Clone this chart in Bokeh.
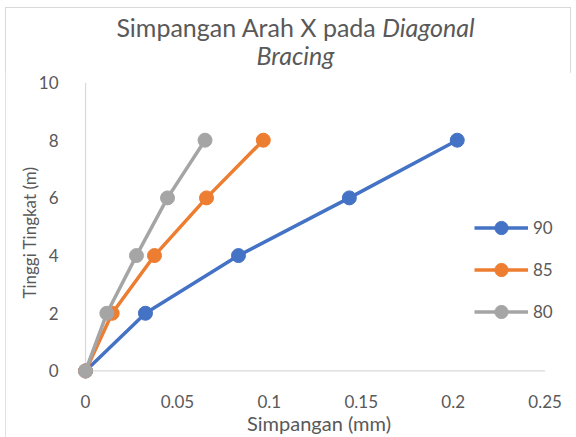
from bokeh.plotting import figure
from bokeh.models import Range1d, FixedTicker, Legend, LegendItem, Div
from bokeh.layouts import column
from bokeh.embed import file_html
from bokeh.resources import INLINE

# ---- data ----
heights = [0, 2, 4, 6, 8]
drift_90 = [0, 0.0326, 0.0832, 0.1435, 0.2022]
drift_85 = [0, 0.0145, 0.0375, 0.0658, 0.0967]
drift_80 = [0, 0.0116, 0.0277, 0.0446, 0.0650]
series_names = ["90", "85", "80"]
x_ticks = [0, 0.05, 0.1, 0.15, 0.2, 0.25]
x_tick_labels = ["0", "0.05", "0.1", "0.15", "0.2", "0.25"]
y_ticks = [0, 2, 4, 6, 8, 10]
title_plain = "Simpangan Arah X pada"
title_italic_1 = "Diagonal"
title_italic_2 = "Bracing"
x_title = "Simpangan (mm)"
y_title = "Tinggi Tingkat (m)"

TXT = "#595959"
FONT = "Lato"
colors = ["#4472C4", "#ED7D31", "#A5A5A5"]

title_div = Div(
    text=(f'<div style="box-sizing:border-box;width:566px;padding-top:6px;padding-left:15px;'
          f'text-align:center;font-family:Lato;font-size:25px;line-height:28px;color:{TXT};">'
          f'{title_plain} <i>{title_italic_1}</i><br><i>{title_italic_2}</i></div>'),
    width=566, height=65, margin=0)

p = figure(width=566, height=365,
           x_range=Range1d(-0.006, 0.26), y_range=Range1d(-0.4, 10),
           output_backend="svg", toolbar_location=None,
           min_border_left=69, min_border_right=8,
           min_border_top=10, min_border_bottom=55,
           background_fill_color="white", border_fill_color="white")
p.outline_line_color = None
p.xgrid.visible = False
p.ygrid.visible = False

for ax in (p.xaxis[0], p.yaxis[0]):
    ax.axis_line_color = None
    ax.major_tick_line_color = None
    ax.minor_tick_line_color = None
    ax.major_label_text_font = FONT
    ax.major_label_text_font_size = "17px"
    ax.major_label_text_color = TXT
    ax.axis_label_text_font = FONT
    ax.axis_label_text_font_style = "normal"
    ax.axis_label_text_color = TXT

p.xaxis.ticker = FixedTicker(ticks=x_ticks)
p.xaxis.major_label_overrides = {t: l for t, l in zip(x_ticks, x_tick_labels)}
p.xaxis.major_label_standoff = 6
p.xaxis.axis_label = x_title
p.xaxis.axis_label_text_font_size = "20px"
p.xaxis.axis_label_standoff = 0

p.yaxis.ticker = FixedTicker(ticks=y_ticks)
p.yaxis.major_label_standoff = 10
p.yaxis.axis_label = y_title
p.yaxis.axis_label_text_font_size = "17px"
p.yaxis.axis_label_standoff = -4

# axis lines
p.segment(x0=[0, 0], y0=[0, 0], x1=[x_ticks[-1], 0], y1=[0, y_ticks[-1]],
          line_color="#d9d9d9", line_width=1.2)

items = []
for name, xs, c in [(series_names[0], drift_90, colors[0]),
                    (series_names[1], drift_85, colors[1]),
                    (series_names[2], drift_80, colors[2])]:
    ln = p.line(xs, heights, line_color=c, line_width=3.5)
    sc = p.scatter(xs, heights, marker="circle", size=14, fill_color=c, line_color=c)
    items.append(LegendItem(label=name, renderers=[ln, sc]))

legend = Legend(items=items, location=(400, 54), orientation="vertical",
                glyph_width=54, glyph_height=33, label_height=33,
                label_standoff=5, spacing=9, padding=0, margin=0,
                border_line_color=None, background_fill_alpha=0,
                label_text_font=FONT, label_text_font_size="17px",
                label_text_color=TXT)
p.add_layout(legend, "center")

layout = column(title_div, p, spacing=0, margin=(7, 0, 0, 5),
                styles={"outline": "1px solid #d9d9d9", "outline-offset": "-1px"})

open("out.html", "w").write(file_html(layout, INLINE))
